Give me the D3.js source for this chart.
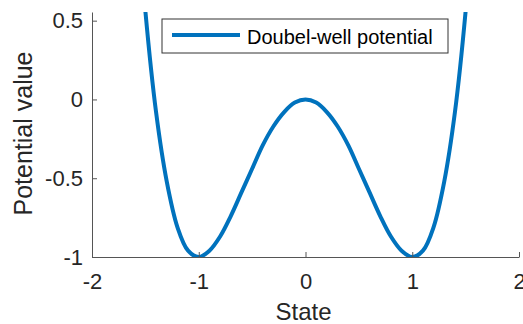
<!DOCTYPE html>
<html>
<head>
<meta charset="utf-8">
<script src="https://cdn.jsdelivr.net/npm/d3@7"></script>
<style>
  body { margin: 0; background: #fff; }
  text { font-family: "Liberation Sans", Arial, sans-serif; }
</style>
</head>
<body>
<svg id="chart" width="523" height="324"></svg>
<script>
// State values (x) and potential values (y)
const stateValues = [-1.6, -1.5, -1.4, -1.3, -1.2, -1.1, -1.0, -0.9, -0.8, -0.7, -0.6, -0.5, -0.4, -0.3, -0.2, -0.1,
  0, 0.1, 0.2, 0.3, 0.4, 0.5, 0.6, 0.7, 0.8, 0.9, 1.0, 1.1, 1.2, 1.3, 1.4, 1.5, 1.6];
const potentialValues = [1.43, 0.56, -0.08, -0.52, -0.81, -0.96, -1.0, -0.96, -0.87, -0.74, -0.59, -0.44, -0.29, -0.17, -0.08, -0.02,
  0, -0.02, -0.08, -0.17, -0.29, -0.44, -0.59, -0.74, -0.87, -0.96, -1.0, -0.96, -0.81, -0.52, -0.08, 0.56, 1.43];
const xTicks = [-2, -1, 0, 1, 2];
const yTicks = [-1, -0.5, 0, 0.5];
const seriesName = "Doubel-well potential";

const margin = {top: 12, right: 4, bottom: 67, left: 92};
const width = 523 - margin.left - margin.right;
const height = 324 - margin.top - margin.bottom;
const lineColor = "#0072BD";
const axisColor = "#262626";

const svg = d3.select("#chart")
  .append("g")
  .attr("transform", `translate(${margin.left},${margin.top})`);

const x = d3.scaleLinear().domain([-2, 2]).range([0, width]);
const y = d3.scaleLinear().domain([-1, 0.555]).range([height, 0]);

const fmt = d => String(d);

// clip the curve to the plot area
svg.append("clipPath").attr("id", "clip")
  .append("rect").attr("width", width).attr("height", height);

const data = stateValues.map((s, i) => ({x: s, y: potentialValues[i]}));

const line = d3.line()
  .x(d => x(d.x))
  .y(d => y(d.y))
  .curve(d3.curveCatmullRom);

svg.append("path")
  .datum(data)
  .attr("clip-path", "url(#clip)")
  .attr("fill", "none")
  .attr("stroke", lineColor)
  .attr("stroke-width", 4)
  .attr("d", line);

// x axis, ticks pointing in
const xAxis = svg.append("g")
  .attr("transform", `translate(0,${height})`)
  .call(d3.axisBottom(x).tickValues(xTicks).tickFormat(fmt).tickSizeInner(-5).tickSizeOuter(0).tickPadding(16));
xAxis.selectAll("text").attr("font-size", 22).attr("fill", axisColor).attr("font-family", "Liberation Sans, Arial, sans-serif");

// y axis
const yAxis = svg.append("g")
  .call(d3.axisLeft(y).tickValues(yTicks).tickFormat(fmt).tickSizeInner(-5).tickSizeOuter(0).tickPadding(9));
yAxis.selectAll("text").attr("font-size", 22).attr("fill", axisColor).attr("font-family", "Liberation Sans, Arial, sans-serif");

svg.selectAll(".domain, .tick line").attr("stroke", "#555").attr("stroke-width", 1);

// axis labels
svg.append("text")
  .attr("x", width / 2 - 2)
  .attr("y", height + 63)
  .attr("text-anchor", "middle")
  .attr("font-size", 24)
  .attr("fill", axisColor)
  .text("State");

svg.append("text")
  .attr("transform", "rotate(-90)")
  .attr("x", -(height / 2) + 1)
  .attr("y", -60)
  .attr("text-anchor", "middle")
  .attr("font-size", 25)
  .attr("fill", axisColor)
  .text("Potential value");

// legend
const legend = svg.append("g").attr("transform", `translate(${162 - margin.left},${19 - margin.top})`);
legend.append("rect")
  .attr("width", 286).attr("height", 34)
  .attr("fill", "#fff").attr("stroke", "#333").attr("stroke-width", 1);
legend.append("line")
  .attr("x1", 10).attr("x2", 78).attr("y1", 16).attr("y2", 16)
  .attr("stroke", lineColor).attr("stroke-width", 4);
legend.append("text")
  .attr("x", 85).attr("y", 25)
  .attr("font-size", 20)
  .attr("fill", "#000")
  .text(seriesName);
</script>
</body>
</html>
